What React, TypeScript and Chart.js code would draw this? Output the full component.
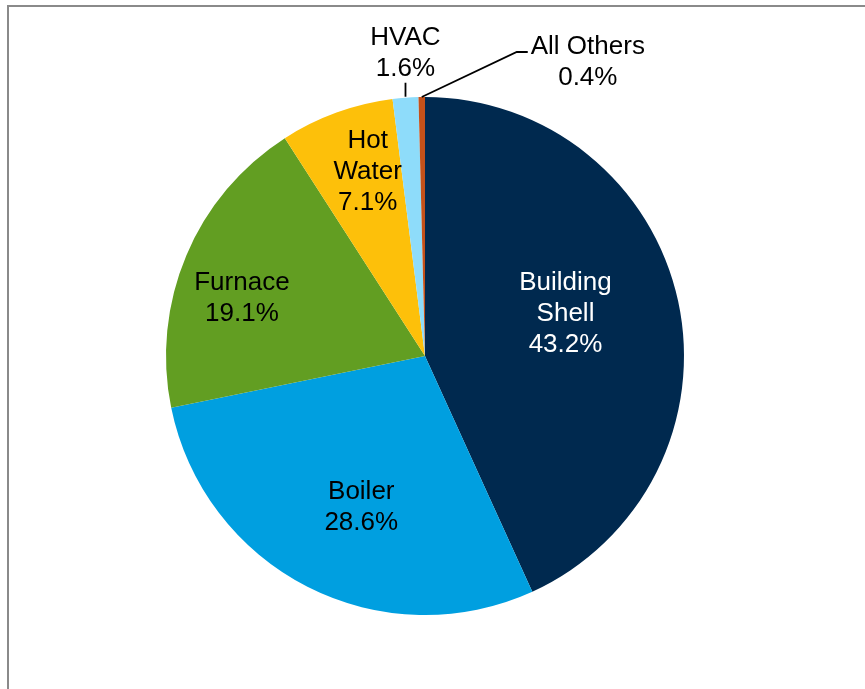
import React, { useEffect, useRef } from "react";
import { Chart, registerables } from "chart.js";

Chart.register(...registerables);

const categories = ["Building Shell", "Boiler", "Furnace", "Hot Water", "HVAC", "All Others"];
const shares = [43.2, 28.6, 19.1, 7.1, 1.6, 0.4];
const sliceColors = ["#00294F", "#009FE0", "#629E22", "#FDC00A", "#8EDCFA", "#C4511A"];
const labelLines = [["Building", "Shell"], ["Boiler"], ["Furnace"], ["Hot", "Water"], ["HVAC"], ["All Others"]];
const labelColors = ["#FFFFFF", "#000000", "#000000", "#000000", "#000000", "#000000"];

// placement style for each label (inside: radial fraction + nudge; outside: leader lines)
const labelPlacement: any[] = [
  { mode: "in", frac: 0.567, ox: -3, oy: -13 },
  { mode: "in", frac: 0.627, ox: 10, oy: 5 },
  { mode: "in", frac: 0.742, ox: -6, oy: 15 },
  { mode: "in", frac: 0.75, ox: 9, oy: -3 },
  { mode: "up", lead: 15, gap: 15 },
  { mode: "elbow", ex: 95, ey: -45, tail: 11 },
];

const FONT = "26px 'Liberation Sans', Arial, sans-serif";
const LINE_H = 31;
const TEXT_SHIFT = 1.5;

const labelPlugin = {
  id: "pieLabels",
  afterDatasetsDraw(chart: any) {
    const ctx = chart.ctx;
    const meta = chart.getDatasetMeta(0);
    ctx.save();
    ctx.font = FONT;
    ctx.textBaseline = "middle";
    ctx.textAlign = "center";
    meta.data.forEach((arc: any, i: number) => {
      const p = arc.getProps(["x", "y", "startAngle", "endAngle", "outerRadius"], true);
      const mid = (p.startAngle + p.endAngle) / 2;
      const cos = Math.cos(mid);
      const sin = Math.sin(mid);
      const lines = [...labelLines[i], shares[i].toFixed(1) + "%"];
      const cfg = labelPlacement[i];
      ctx.fillStyle = labelColors[i];
      if (cfg.mode === "in") {
        const cx = p.x + cos * p.outerRadius * cfg.frac + cfg.ox;
        const cy = p.y + sin * p.outerRadius * cfg.frac + cfg.oy;
        const top = cy - ((lines.length - 1) * LINE_H) / 2 + TEXT_SHIFT;
        lines.forEach((t, k) => ctx.fillText(t, cx, top + k * LINE_H));
      } else if (cfg.mode === "up") {
        const ex = p.x + cos * p.outerRadius;
        const ey = p.y + sin * p.outerRadius;
        ctx.strokeStyle = "#000";
        ctx.lineWidth = 1.8;
        ctx.beginPath();
        ctx.moveTo(ex, ey - 1);
        ctx.lineTo(ex, ey - cfg.lead);
        ctx.stroke();
        const bottom = ey - cfg.lead - cfg.gap + TEXT_SHIFT;
        lines.forEach((t, k) => ctx.fillText(t, ex, bottom - (lines.length - 1 - k) * LINE_H));
      } else {
        const ex = p.x + cos * p.outerRadius;
        const ey = p.y + sin * p.outerRadius;
        const bx = ex + cfg.ex;
        const by = ey + cfg.ey;
        const tx = bx + cfg.tail;
        ctx.strokeStyle = "#000";
        ctx.lineWidth = 1.8;
        ctx.beginPath();
        ctx.moveTo(ex, ey);
        ctx.lineTo(bx, by);
        ctx.lineTo(tx, by);
        ctx.stroke();
        const w = ctx.measureText(lines[0]).width;
        const cx = tx + 3 + w / 2;
        lines.forEach((t, k) => ctx.fillText(t, cx, by - 7 + TEXT_SHIFT + k * LINE_H));
      }
    });
    ctx.restore();
  },
};

export default function App() {
  const ref = useRef<HTMLCanvasElement | null>(null);
  useEffect(() => {
    if (!ref.current) return;
    const chart = new Chart(ref.current, {
      type: "pie",
      data: {
        labels: categories,
        datasets: [
          {
            data: shares,
            backgroundColor: sliceColors,
            borderWidth: 0,
          },
        ],
      },
      options: {
        responsive: false,
        animation: false,
        devicePixelRatio: 1,
        layout: { padding: { left: 166, top: 97, right: 181, bottom: 74 } },
        plugins: {
          legend: { display: false },
          tooltip: { enabled: false },
        },
      },
      plugins: [labelPlugin],
    });
    return () => chart.destroy();
  }, []);
  return (
    <div style={{ position: "fixed", left: 0, top: 0, width: 865, height: 689, background: "#fff", overflow: "hidden" }}>
      <div
        style={{
          position: "absolute",
          left: 7,
          top: 5,
          width: 900,
          height: 800,
          borderTop: "2px solid #8a8a8a",
          borderLeft: "2px solid #8a8a8a",
        }}
      />
      <canvas ref={ref} width={865} height={689} style={{ position: "absolute", left: 0, top: 0 }} />
    </div>
  );
}
